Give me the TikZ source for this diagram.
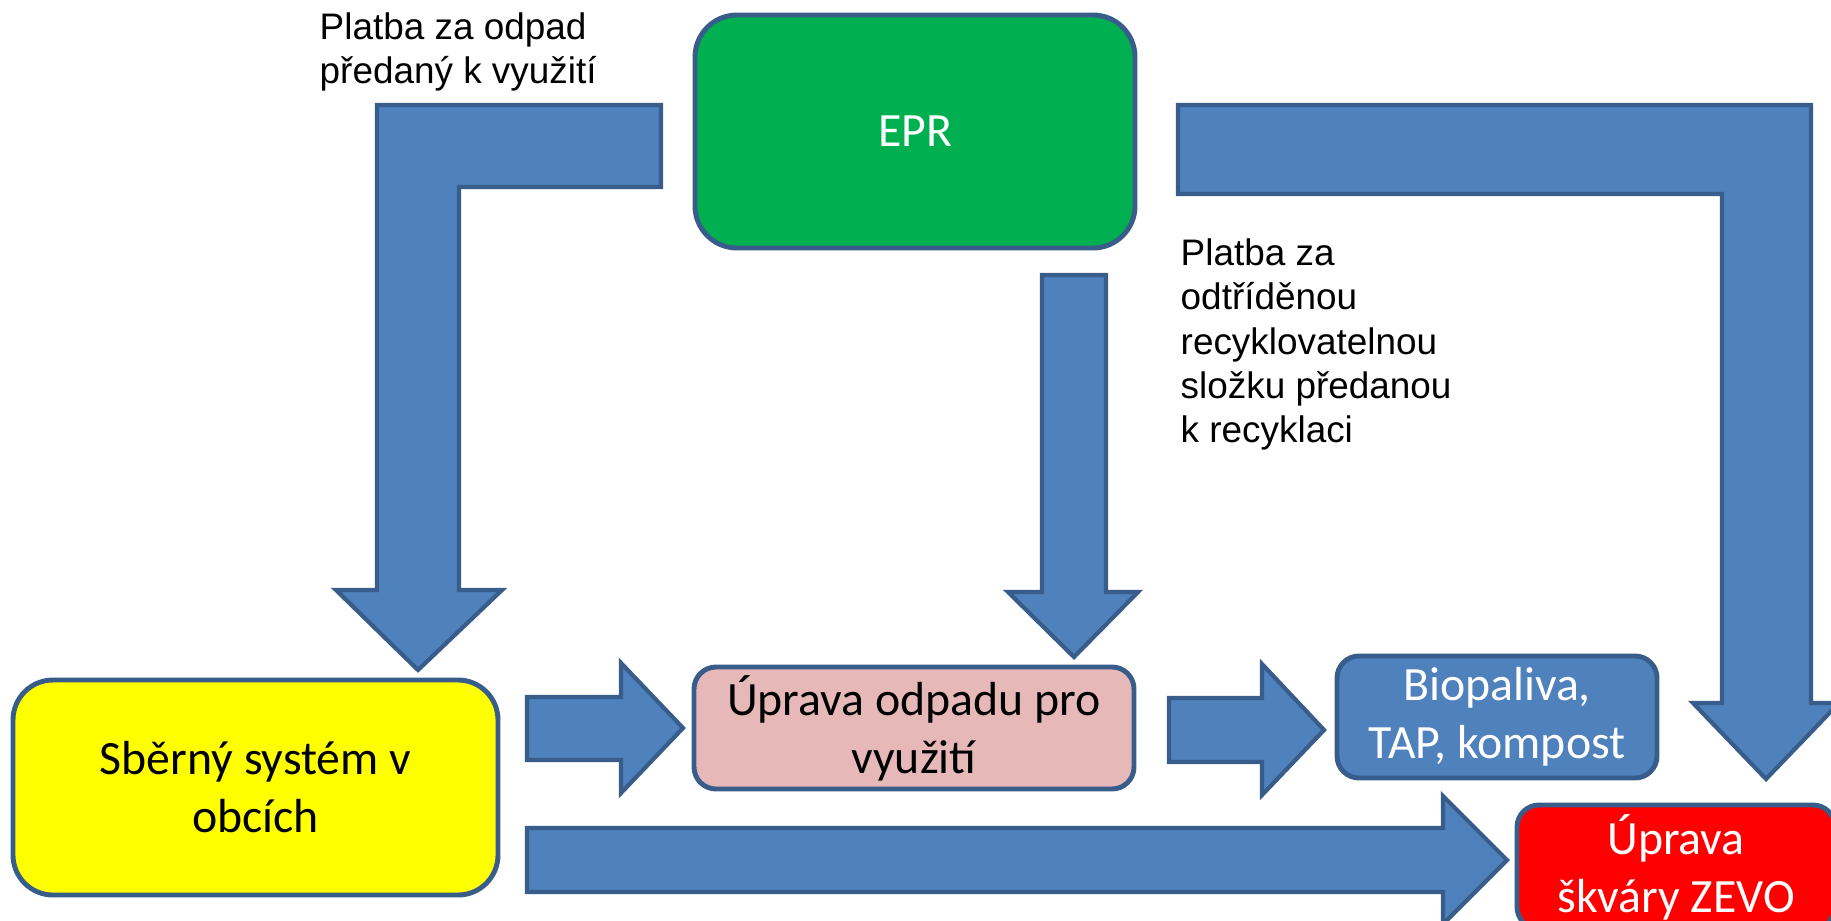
\documentclass[tikz,border=0pt]{standalone}
\usepackage{fontspec}
\setmainfont{Liberation Sans}
\newfontfamily\calibri{Carlito}
\definecolor{eprgreen}{HTML}{00B050}
\definecolor{arrowblue}{HTML}{4F81BD}
\definecolor{edgeblue}{HTML}{385D8A}
\definecolor{pinkbox}{HTML}{E6B9B8}
\definecolor{sberyellow}{HTML}{FFFF00}

\begin{document}
\begin{tikzpicture}[
	box/.style={draw=edgeblue,line width=1.4pt,align=center,inner sep=0pt,font=\calibri\fontsize{13.6}{16.5}\selectfont},
	blockarrow/.style={draw=edgeblue,fill=arrowblue,line width=1.2pt,line join=miter},
	notetext/.style={anchor=north west,inner sep=0pt,align=left,font=\fontsize{10.5}{12.6}\selectfont}]
\clip (0,0) rectangle (18.31,9.20);

% boxes
\node[box,fill=eprgreen,text=white,rounded corners=0.42cm,minimum width=4.40cm,minimum height=2.33cm] (epr) at (9.15,7.885) {EPR};
\node[box,fill=sberyellow,rounded corners=0.40cm,minimum width=4.85cm,minimum height=2.15cm] (sber) at (2.555,1.325) {Sběrný systém v\\obcích};
\node[box,fill=pinkbox,rounded corners=0.22cm,minimum width=4.40cm,minimum height=1.22cm] (uprava) at (9.14,1.92) {Úprava odpadu pro\\využití};
\node[box,fill=arrowblue,text=white,rounded corners=0.22cm,minimum width=3.20cm,minimum height=1.22cm] (bio) at (14.97,2.03) {Biopaliva,\\TAP, kompost};
\node[box,fill=red,text=white,rounded corners=0.22cm,minimum width=3.18cm,minimum height=1.24cm] (zevo) at (16.76,0.53) {Úprava\\škváry ZEVO};

% block arrows
\draw[blockarrow] (6.61,8.15) -- (3.77,8.15) -- (3.77,3.30) -- (3.36,3.30) -- (4.18,2.50) -- (5.02,3.30) -- (4.59,3.30) -- (4.59,7.33) -- (6.61,7.33) -- cycle;
\draw[blockarrow] (10.42,6.45) -- (11.06,6.45) -- (11.06,3.28) -- (11.38,3.28) -- (10.74,2.63) -- (10.08,3.28) -- (10.42,3.28) -- cycle;
\draw[blockarrow] (11.78,8.15) -- (18.11,8.15) -- (18.11,2.17) -- (18.39,2.17) -- (17.66,1.41) -- (16.93,2.17) -- (17.22,2.17) -- (17.22,7.26) -- (11.78,7.26) -- cycle;
\draw[blockarrow] (5.27,2.23) -- (6.21,2.23) -- (6.21,2.57) -- (6.83,1.92) -- (6.21,1.27) -- (6.21,1.60) -- (5.27,1.60) -- cycle;
\draw[blockarrow] (11.69,2.22) -- (12.62,2.22) -- (12.62,2.56) -- (13.24,1.90) -- (12.62,1.25) -- (12.62,1.58) -- (11.69,1.58) -- cycle;
\draw[blockarrow] (5.27,0.92) -- (14.43,0.92) -- (14.43,1.24) -- (15.07,0.60) -- (14.43,-0.04) -- (14.43,0.28) -- (5.27,0.28) -- cycle;

% payment notes
\node[notetext] (platbaodpad) at (3.19,9.08) {Platba za odpad\\předaný k využití};
\node[notetext] (platbarecyk) at (11.80,6.82) {Platba za\\odtříděnou\\recyklovatelnou\\složku předanou\\k recyklaci};
\end{tikzpicture}
\end{document}
